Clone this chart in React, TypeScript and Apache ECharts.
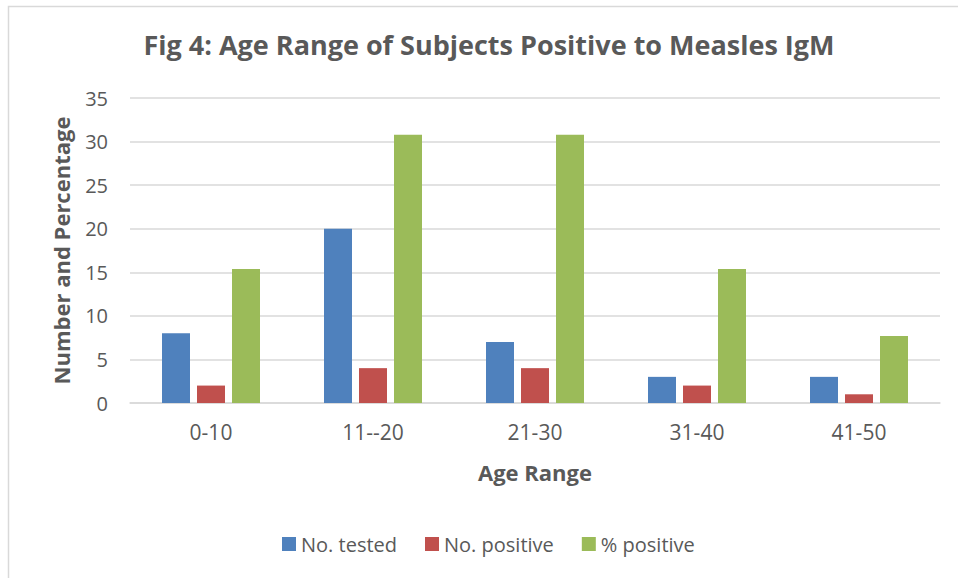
import React, { useEffect, useRef } from "react";
import * as echarts from "echarts";

const categories = ["0-10", "11--20", "21-30", "31-40", "41-50"];
const noTested = [8, 20, 7, 3, 3];
const noPositive = [2, 4, 4, 2, 1];
const pctPositive = [15.38, 30.77, 30.77, 15.38, 7.69];
const seriesNames = ["No. tested", "No. positive", "% positive"];
const colors = ["#4f81bd", "#c0504d", "#9bbb59"];
const FONT = "Open Sans";

export default function App() {
  const ref = useRef<HTMLDivElement>(null);
  useEffect(() => {
    document.body.style.margin = "0";
    const chart = echarts.init(ref.current!, null, { renderer: "svg" });
    const data = [noTested, noPositive, pctPositive];
    chart.setOption({
      animation: false,
      backgroundColor: "#ffffff",
      title: {
        text: "Fig 4: Age Range of Subjects Positive to Measles IgM",
        left: 484,
        textAlign: "center",
        top: 26,
        textStyle: { fontFamily: FONT, fontSize: 27, fontWeight: "bold", color: "#595959" },
      },
      graphic: [
        {
          type: "rect",
          shape: { x: 8.5, y: 6.5, width: 970, height: 600 },
          style: { fill: "none", stroke: "#d9d9d9", lineWidth: 1.5 },
          silent: true,
        },
      ],
      legend: {
        data: seriesNames,
        left: 277,
        top: 529,
        itemWidth: 14,
        itemHeight: 14,
        itemGap: 28,
        icon: "rect",
        textStyle: { fontFamily: FONT, fontSize: 20, color: "#595959" },
      },
      grid: { left: 130, right: 18, top: 98, bottom: 175, containLabel: false },
      xAxis: {
        type: "category",
        data: categories,
        name: "Age Range",
        nameLocation: "middle",
        nameGap: 58,
        nameTextStyle: { fontFamily: FONT, fontSize: 22, fontWeight: "bold", color: "#595959" },
        axisLine: { lineStyle: { color: "#d9d9d9", width: 1.5 } },
        axisTick: { show: false },
        axisLabel: { margin: 18, fontFamily: FONT, fontSize: 21, color: "#595959" },
      },
      yAxis: {
        type: "value",
        min: 0,
        max: 35,
        interval: 5,
        name: "Number and Percentage",
        nameLocation: "middle",
        nameGap: 58,
        nameTextStyle: { fontFamily: FONT, fontSize: 22, fontWeight: "bold", color: "#595959" },
        axisLine: { show: false },
        axisTick: { show: false },
        axisLabel: { margin: 22, fontFamily: FONT, fontSize: 20, color: "#595959" },
        splitLine: { lineStyle: { color: "#d9d9d9", width: 1.5 } },
      },
      series: seriesNames.map((name, i) => ({
        name,
        type: "bar",
        data: data[i],
        barWidth: 28,
        barGap: "25%",
        itemStyle: { color: colors[i] },
      })),
    });
    return () => chart.dispose();
  }, []);
  return <div ref={ref} style={{ width: 958, height: 578, position: "absolute", left: 0, top: 0 }} />;
}
